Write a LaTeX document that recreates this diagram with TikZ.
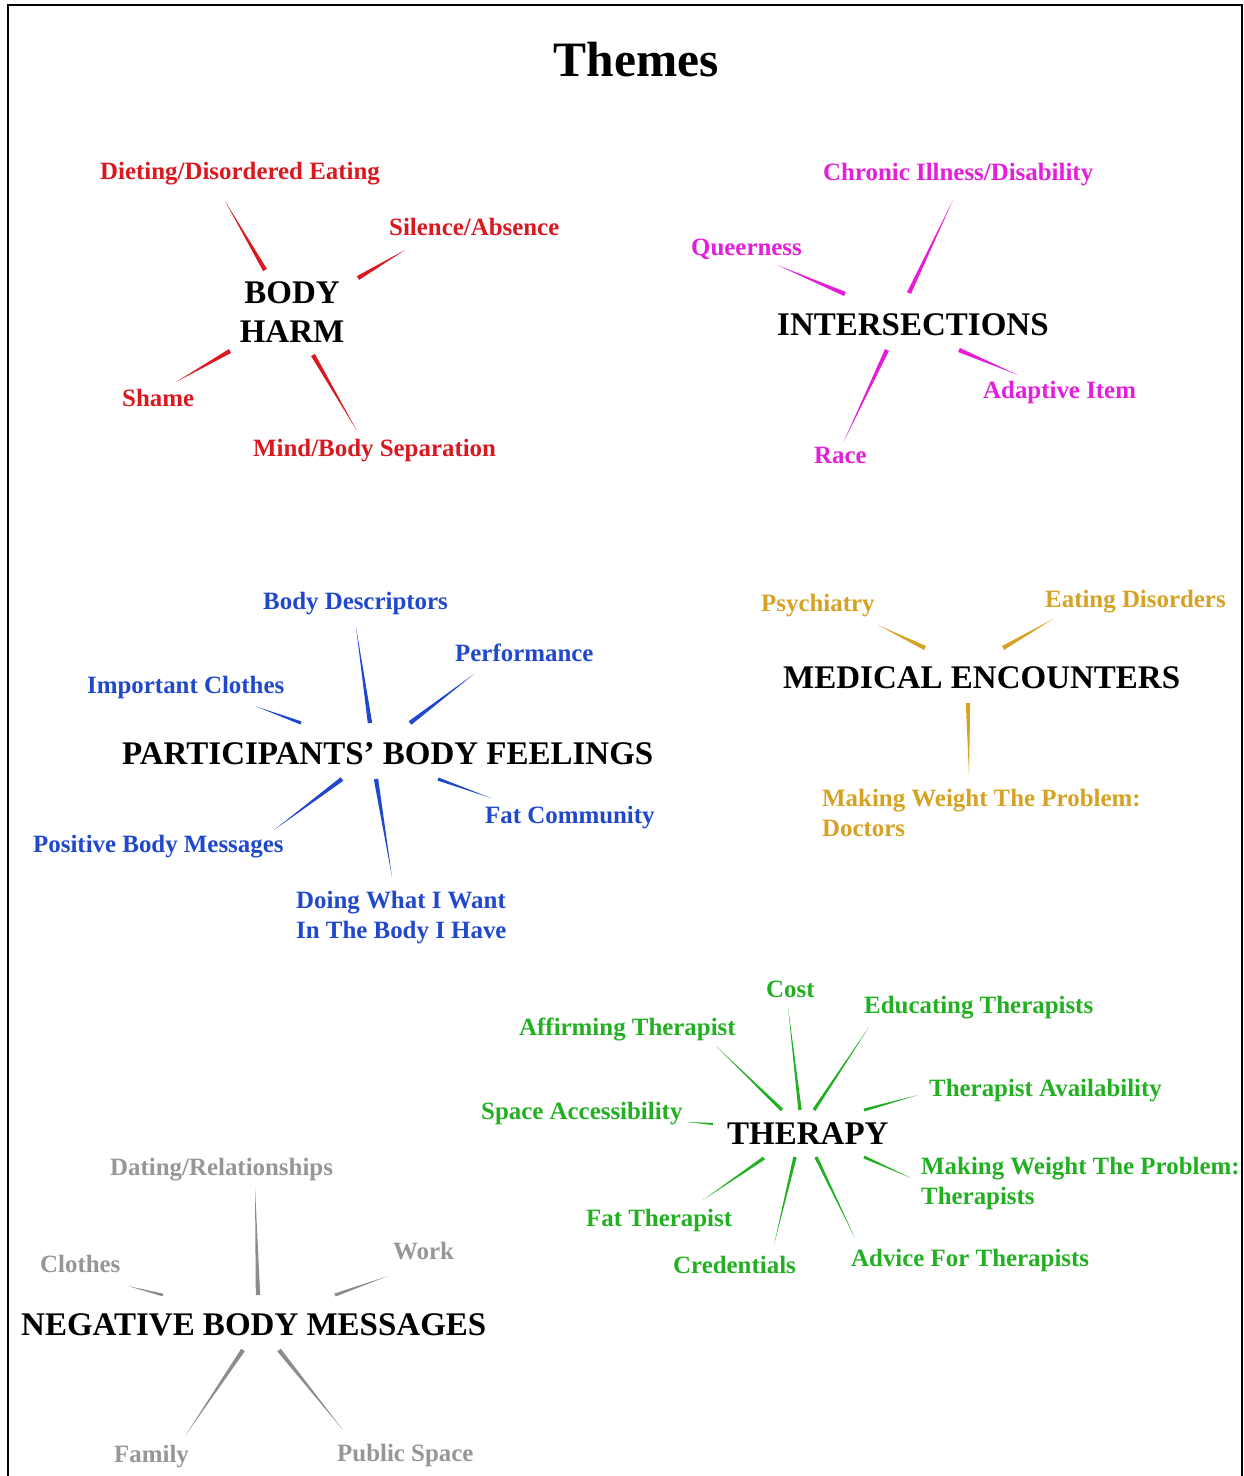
\documentclass[tikz,border=0pt]{standalone}
\usepackage{fontspec}
\setmainfont{Liberation Serif}
\usetikzlibrary{calc}

\definecolor{harmred}{RGB}{218,24,32}
\definecolor{intmag}{RGB}{228,30,218}
\definecolor{feelblue}{RGB}{32,72,205}
\definecolor{medgold}{RGB}{214,162,35}
\definecolor{therapygreen}{RGB}{34,176,34}
\definecolor{neggray}{RGB}{150,150,150}
\definecolor{neggrayline}{RGB}{140,140,140}

\begin{document}
\begin{tikzpicture}[x=1pt,y=-1pt,
  lab/.style={anchor=base west, inner sep=0pt, font=\fontsize{24.9}{30}\selectfont\bfseries},
  hub/.style={anchor=base west, inner sep=0pt, text=black, font=\fontsize{33}{39}\selectfont\bfseries},
  heading/.style={anchor=base, inner sep=0pt, text=black, font=\fontsize{49.5}{56}\selectfont\bfseries},
  wedge/.style={to path={($(\tikztostart)!#1!90:(\tikztotarget)$) -- (\tikztotarget) -- ($(\tikztostart)!#1!-90:(\tikztotarget)$) -- cycle}},
  wedge/.default=2.2pt]

\useasboundingbox (0,0) rectangle (1243,1476);

% frame
\draw[line width=2.2pt] (8,1480) -- (8,5) -- (1242,5) -- (1242,1480);

\node[heading] (title) at (636,76) {Themes};

% ---------------- BODY HARM ----------------
\node[hub, anchor=base] (harm) at (292,303) {\begin{tabular}[t]{@{}c@{}}BODY\\HARM\end{tabular}};
\begin{scope}[harmred]
\node[lab] (diet)    at (100,179) {Dieting/Disordered Eating};
\node[lab] (silence) at (389,235) {Silence/Absence};
\node[lab] (shame)   at (122,406) {Shame};
\node[lab] (mind)    at (253,456) {Mind/Body Separation};
\coordinate (harm-d) at (265,270); \coordinate (diet-e)    at (225,201);
\coordinate (harm-s) at (358,278); \coordinate (silence-e) at (405,250);
\coordinate (harm-h) at (230,351); \coordinate (shame-e)   at (176,382);
\coordinate (harm-m) at (313,355); \coordinate (mind-e)    at (357,431);
\fill (harm-d) to[wedge] (diet-e);
\fill (harm-s) to[wedge] (silence-e);
\fill (harm-h) to[wedge] (shame-e);
\fill (harm-m) to[wedge] (mind-e);
\end{scope}

% ---------------- INTERSECTIONS ----------------
\node[hub] (inter) at (777,335) {INTERSECTIONS};
\begin{scope}[intmag]
\node[lab] (chronic)  at (823,180) {Chronic Illness/Disability};
\node[lab] (queer)    at (691,255) {Queerness};
\node[lab] (adaptive) at (983,398) {Adaptive Item};
\node[lab] (race)     at (814,463) {Race};
\coordinate (inter-c) at (909,293); \coordinate (chronic-e)  at (953,200);
\coordinate (inter-q) at (845,294); \coordinate (queer-e)    at (777,265);
\coordinate (inter-r) at (887,350); \coordinate (race-e)     at (844,441);
\coordinate (inter-a) at (959,350); \coordinate (adaptive-e) at (1018,375);
\fill (inter-c) to[wedge] (chronic-e);
\fill (inter-q) to[wedge] (queer-e);
\fill (inter-r) to[wedge] (race-e);
\fill (inter-a) to[wedge] (adaptive-e);
\end{scope}

% ---------------- PARTICIPANTS' BODY FEELINGS ----------------
\node[hub] (feel) at (122,764) {PARTICIPANTS’ BODY FEELINGS};
\begin{scope}[feelblue]
\node[lab] (descr)    at (263,609) {Body Descriptors};
\node[lab] (perform)  at (455,661) {Performance};
\node[lab] (impcl)    at (87,693)  {Important Clothes};
\node[lab] (fatcom)   at (485,823) {Fat Community};
\node[lab] (positive) at (33,852)  {Positive Body Messages};
\node[lab] (doing)    at (296,908) {\begin{tabular}[t]{@{}l@{}}Doing What I Want\\In The Body I Have\end{tabular}};
\coordinate (feel-b) at (370,723); \coordinate (descr-e)    at (356,627);
\coordinate (feel-p) at (410,723); \coordinate (perform-e)  at (474,674);
\coordinate (feel-i) at (301,723); \coordinate (impcl-e)    at (255,706);
\coordinate (feel-m) at (342,779); \coordinate (positive-e) at (274,830);
\coordinate (feel-d) at (376,779); \coordinate (doing-e)    at (392,877);
\coordinate (feel-f) at (438,779); \coordinate (fatcom-e)   at (491,798);
\fill (feel-b) to[wedge] (descr-e);
\fill (feel-p) to[wedge] (perform-e);
\fill (feel-i) to[wedge=1.6pt] (impcl-e);
\fill (feel-m) to[wedge] (positive-e);
\fill (feel-d) to[wedge] (doing-e);
\fill (feel-f) to[wedge=1.6pt] (fatcom-e);
\end{scope}

% ---------------- MEDICAL ENCOUNTERS ----------------
\node[hub] (medical) at (783,688) {MEDICAL ENCOUNTERS};
\begin{scope}[medgold]
\node[lab] (psych)   at (761,611)  {Psychiatry};
\node[lab] (eatdis)  at (1045,607) {Eating Disorders};
\node[lab] (doctors) at (822,806)  {\begin{tabular}[t]{@{}l@{}}Making Weight The Problem:\\Doctors\end{tabular}};
\coordinate (med-p) at (925,648); \coordinate (psych-e)   at (878,625);
\coordinate (med-e) at (1003,648); \coordinate (eatdis-e) at (1053,619);
\coordinate (med-d) at (968,703); \coordinate (doctors-e) at (969,775);
\fill (med-p) to[wedge] (psych-e);
\fill (med-e) to[wedge] (eatdis-e);
\fill (med-d) to[wedge] (doctors-e);
\end{scope}

% ---------------- THERAPY ----------------
\node[hub] (therapy) at (727,1144) {THERAPY};
\begin{scope}[therapygreen]
\node[lab] (cost)    at (766,997)  {Cost};
\node[lab] (educ)    at (864,1013) {Educating Therapists};
\node[lab] (affirm)  at (519,1035) {Affirming Therapist};
\node[lab] (avail)   at (929,1096) {Therapist Availability};
\node[lab] (space)   at (481,1119) {Space Accessibility};
\node[lab] (mwther)  at (921,1174) {\begin{tabular}[t]{@{}l@{}}Making Weight The Problem:\\Therapists\end{tabular}};
\node[lab] (fatther) at (586,1226) {Fat Therapist};
\node[lab] (advice)  at (851,1266) {Advice For Therapists};
\node[lab] (cred)    at (673,1273) {Credentials};
\coordinate (ther-c) at (800,1110); \coordinate (cost-e)    at (788,1007);
\coordinate (ther-e) at (814,1110); \coordinate (educ-e)    at (869,1027);
\coordinate (ther-v) at (864,1110); \coordinate (avail-e)   at (918,1095);
\coordinate (ther-a) at (782,1110); \coordinate (affirm-e)  at (717,1047);
\coordinate (ther-s) at (713,1124); \coordinate (space-e)   at (687,1122);
\coordinate (ther-f) at (764,1158); \coordinate (fatther-e) at (703,1200);
\coordinate (ther-r) at (795,1157); \coordinate (cred-e)    at (774,1245);
\coordinate (ther-d) at (816,1157); \coordinate (advice-e)  at (855,1238);
\coordinate (ther-m) at (864,1157); \coordinate (mwther-e)  at (911,1178);
\fill (ther-c) to[wedge=1.7pt] (cost-e);
\fill (ther-e) to[wedge=1.7pt] (educ-e);
\fill (ther-v) to[wedge=1.5pt] (avail-e);
\fill (ther-a) to[wedge=1.7pt] (affirm-e);
\fill (ther-s) to[wedge=1.1pt] (space-e);
\fill (ther-f) to[wedge=1.7pt] (fatther-e);
\fill (ther-r) to[wedge=1.7pt] (cred-e);
\fill (ther-d) to[wedge=1.7pt] (advice-e);
\fill (ther-m) to[wedge=1.5pt] (mwther-e);
\end{scope}

% ---------------- NEGATIVE BODY MESSAGES ----------------
\node[hub] (negative) at (21,1335) {NEGATIVE BODY MESSAGES};
\begin{scope}[neggray]
\node[lab] (dating)  at (110,1175) {Dating/Relationships};
\node[lab] (clothes) at (40,1272)  {Clothes};
\node[lab] (work)    at (393,1259) {Work};
\node[lab] (family)  at (114,1462) {Family};
\node[lab] (public)  at (337,1461) {Public Space};
\end{scope}
\begin{scope}[neggrayline]
\coordinate (neg-d) at (258,1295); \coordinate (dating-e)  at (255,1187);
\coordinate (neg-c) at (163,1295); \coordinate (clothes-e) at (128,1286);
\coordinate (neg-w) at (335,1295); \coordinate (work-e)    at (388,1276);
\coordinate (neg-f) at (243,1350); \coordinate (family-e)  at (185,1436);
\coordinate (neg-p) at (279,1350); \coordinate (public-e)  at (343,1430);
\fill (neg-d) to[wedge] (dating-e);
\fill (neg-c) to[wedge=1.4pt] (clothes-e);
\fill (neg-w) to[wedge=1.6pt] (work-e);
\fill (neg-f) to[wedge] (family-e);
\fill (neg-p) to[wedge] (public-e);
\end{scope}

\end{tikzpicture}
\end{document}
